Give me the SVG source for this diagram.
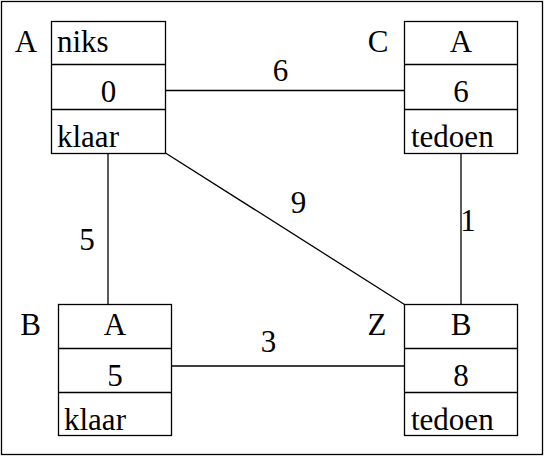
<svg xmlns="http://www.w3.org/2000/svg" width="545" height="457" viewBox="0 0 545 457">
<style>
.box{fill:#fff;stroke:#000;stroke-width:1.3}
.ln{stroke:#000;stroke-width:1.3;fill:none}
.t{font-family:"Liberation Serif",Tinos,"Times New Roman",Times,"Nimbus Roman","Nimbus Roman No9 L","Noto Serif","DejaVu Serif",FreeSerif,serif;font-size:31px;fill:#000}
.c{text-anchor:middle}
</style>
<rect x="0" y="0" width="545" height="457" fill="#fff"/>
<rect class="ln" x="1.5" y="1.5" width="541" height="453"/>
<g id="connectors">
<line class="ln" x1="165.5" y1="90.5" x2="404.5" y2="90.5"/>
<line class="ln" x1="108" y1="153" x2="108" y2="304"/>
<line class="ln" x1="461" y1="153" x2="461" y2="304"/>
<line class="ln" x1="172" y1="366" x2="404" y2="366"/>
<line class="ln" x1="165.5" y1="153" x2="404.5" y2="304.5"/>
<text class="t c" x="280.5" y="81">6</text>
<text class="t c" x="298.5" y="213">9</text>
<text class="t c" x="87" y="250">5</text>
<text class="t c" x="468" y="231">1</text>
<text class="t c" x="268.5" y="352">3</text>
</g>
<g id="nodeA">
<rect class="box" x="51.5" y="21.5" width="114" height="132"/>
<line class="ln" x1="51.5" y1="64.5" x2="165.5" y2="64.5"/>
<line class="ln" x1="51.5" y1="109.5" x2="165.5" y2="109.5"/>
<text class="t" x="57" y="52">niks</text>
<text class="t c" x="108.5" y="102">0</text>
<text class="t" x="57" y="147">klaar</text>
<text class="t c" x="26" y="52">A</text>
</g>
<g id="nodeC">
<rect class="box" x="404.5" y="21.5" width="113" height="132"/>
<line class="ln" x1="404.5" y1="64.5" x2="517.5" y2="64.5"/>
<line class="ln" x1="404.5" y1="109.5" x2="517.5" y2="109.5"/>
<text class="t c" x="461" y="52">A</text>
<text class="t c" x="461" y="102">6</text>
<text class="t" x="411" y="147">tedoen</text>
<text class="t c" x="378" y="52">C</text>
</g>
<g id="nodeB">
<rect class="box" x="58.5" y="304.5" width="113" height="131"/>
<line class="ln" x1="58.5" y1="348.5" x2="171.5" y2="348.5"/>
<line class="ln" x1="58.5" y1="392.5" x2="171.5" y2="392.5"/>
<text class="t c" x="115" y="335">A</text>
<text class="t c" x="115" y="386">5</text>
<text class="t" x="64" y="430">klaar</text>
<text class="t c" x="30.5" y="335">B</text>
</g>
<g id="nodeZ">
<rect class="box" x="404.5" y="304.5" width="113" height="131"/>
<line class="ln" x1="404.5" y1="348.5" x2="517.5" y2="348.5"/>
<line class="ln" x1="404.5" y1="392.5" x2="517.5" y2="392.5"/>
<text class="t c" x="461" y="335">B</text>
<text class="t c" x="461" y="386">8</text>
<text class="t" x="411" y="430">tedoen</text>
<text class="t c" x="377" y="335">Z</text>
</g>
</svg>
